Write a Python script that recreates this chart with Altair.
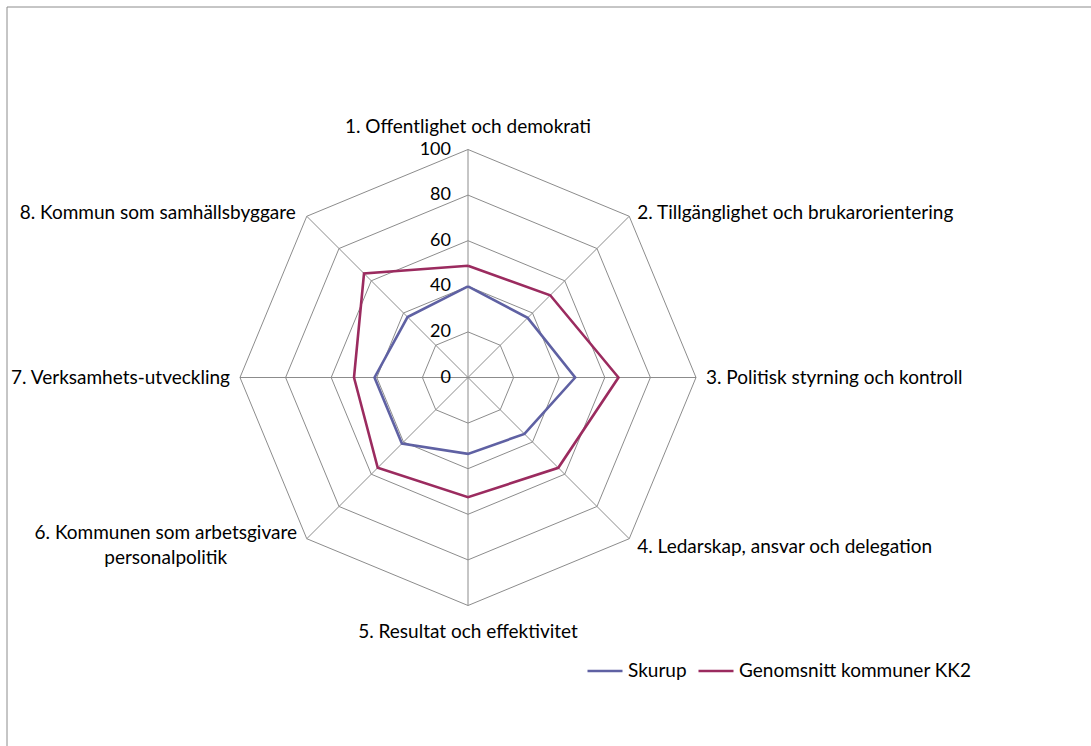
import altair as alt
import pandas as pd

categories = [
    "1. Offentlighet och demokrati",
    "2. Tillgänglighet och brukarorientering",
    "3. Politisk styrning och kontroll",
    "4. Ledarskap, ansvar och delegation",
    "5. Resultat och effektivitet",
    "6. Kommunen som arbetsgivare\npersonalpolitik",
    "7. Verksamhets-utveckling",
    "8. Kommun som samhällsbyggare",
]
series_names = ["Skurup", "Genomsnitt kommuner KK2"]
skurup = [40, 37, 47, 35, 33.5, 41, 41, 37.5]
genomsnitt = [49, 51, 66, 56, 52.5, 56, 50, 64.5]
levels = [20, 40, 60, 80, 100]
tick_labels = ["0", "20", "40", "60", "80", "100"]
colors = ["#5f61a3", "#9b2b5f"]

FONT = "Lato"
FS = 19
W, H = 1091, 746
CX, CY, PX = 468, 377.5, 2.28
xdom = [-CX / PX, (W - CX) / PX]
ydom = [-(H - CY) / PX, CY / PX]
xs = alt.Scale(domain=xdom, nice=False, zero=False)
ys = alt.Scale(domain=ydom, nice=False, zero=False)
n = len(categories)

rows = []
for name, vals in zip(series_names, [skurup, genomsnitt]):
    for k in range(n + 1):
        rows.append({"series": name, "idx": k % n, "ord": k, "value": vals[k % n]})
sdf = pd.DataFrame(rows)

grid_rows = []
for lv in levels:
    for k in range(n + 1):
        grid_rows.append({"level": lv, "idx": k % n, "ord": k})
gdf = pd.DataFrame(grid_rows)

spokes = pd.DataFrame({"idx": list(range(n)), "r": [100] * n})
ticks = pd.DataFrame({"lab": tick_labels, "lv": [0] + levels})
cats = pd.DataFrame({"idx": list(range(n)), "cat": categories, "r": [100] * n})

ang = "PI/2 - datum.idx*PI/4"

X = alt.X("x:Q", scale=xs, axis=None)
Y = alt.Y("y:Q", scale=ys, axis=None)

frame = alt.Chart(pd.DataFrame({"a": [0]})).mark_rect(
    fill=None, stroke="#8c8c8c", strokeWidth=1
).encode(x=alt.value(7), y=alt.value(7), x2=alt.value(W + 20), y2=alt.value(H + 20))

grid = alt.Chart(gdf).transform_calculate(
    x=f"datum.level*cos({ang})", y=f"datum.level*sin({ang})"
).mark_line(color="#8c8c8c", strokeWidth=1).encode(
    x=X, y=Y, detail="level:N", order="ord:Q"
)

spoke = alt.Chart(spokes).transform_calculate(
    x=f"datum.r*cos({ang})", y=f"datum.r*sin({ang})", x0="0", y0="0"
).mark_rule(color="#8c8c8c", strokeWidth=1).encode(
    x=alt.X("x0:Q", scale=xs, axis=None), y=alt.Y("y0:Q", scale=ys, axis=None),
    x2="x:Q", y2="y:Q"
)

tick_txt = alt.Chart(ticks).transform_calculate(x="0", y="datum.lv").mark_text(
    align="right", baseline="middle", dx=-17, font=FONT, fontSize=18, color="#000"
).encode(x=X, y=Y, text="lab:N")

lines = alt.Chart(sdf).transform_calculate(
    x=f"datum.value*cos({ang})", y=f"datum.value*sin({ang})"
).mark_line(strokeWidth=2.6).encode(
    x=X, y=Y, order="ord:Q",
    color=alt.Color(
        "series:N",
        scale=alt.Scale(domain=series_names, range=colors),
        legend=alt.Legend(
            title=None, orient="none", legendX=586, legendY=652, direction="horizontal",
            symbolType="stroke", symbolSize=1225, symbolStrokeWidth=2.6,
            labelFont=FONT, labelFontSize=FS, labelColor="#000", labelLimit=0,
            columnPadding=6, labelOffset=4, symbolOffset=0,
        ),
    ),
)

label_specs = [
    (0, "center", 0, -23),
    (1, "left", 8, -3),
    (2, "left", 10, 0),
    (3, "left", 8, 8),
    (4, "center", 0, 26),
    (5, "center", -141, -6),
    (6, "right", -10, 0),
    (7, "right", -11, -3),
]
label_layers = []
for i, al, dx, dy in label_specs:
    label_layers.append(
        alt.Chart(cats).transform_filter(f"datum.idx == {i}").transform_calculate(
            x=f"datum.r*cos({ang})", y=f"datum.r*sin({ang})"
        ).mark_text(
            align=al, baseline="middle", dx=dx, dy=dy, font=FONT, fontSize=FS,
            color="#000", lineBreak="\n", lineHeight=25
        ).encode(x=X, y=Y, text="cat:N")
    )

chart = alt.layer(frame, grid, spoke, lines, tick_txt, *label_layers).properties(
    width=W, height=H, autosize=alt.AutoSizeParams(type="none"), padding=0,
    background="white"
).configure_view(stroke=None)

chart.save("out.html", embed_options={"renderer": "svg", "actions": False})
